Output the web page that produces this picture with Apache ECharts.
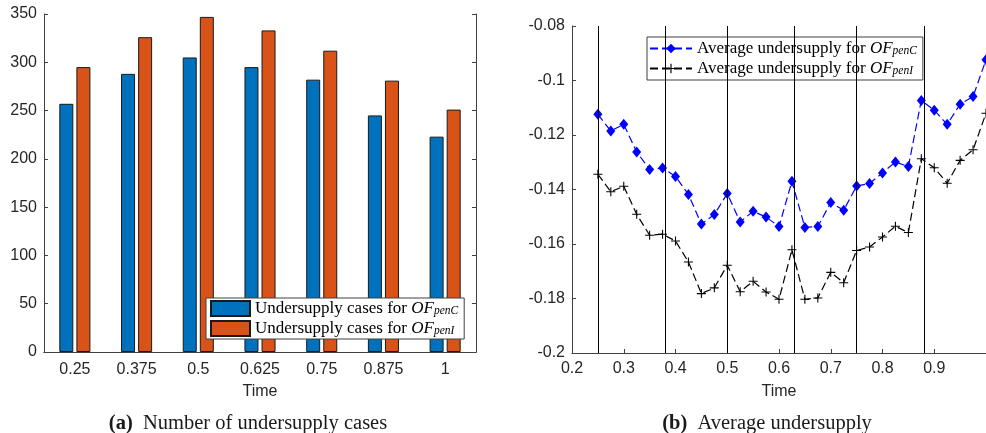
<!DOCTYPE html>
<html lang="en">
<head>
	<meta charset="UTF-8">
	<title>Undersupply</title>
	<style type="text/css">
		html, body { margin: 0; padding: 0; background: #fff; }
		#main { width: 986px; height: 433px; }
	</style>
	<script type="text/javascript" src="https://cdn.jsdelivr.net/npm/echarts@6/dist/echarts.min.js"></script>
</head>
<body>
	<div id="main"></div>

	<script type="text/javascript">
// (a) number of undersupply cases
var times = ['0.25', '0.375', '0.5', '0.625', '0.75', '0.875', '1'];
var casesC = [257, 288, 305, 295, 282, 245, 223];
var casesI = [295, 326, 347, 333, 312, 281, 251];

// (b) average undersupply
var tPoints = [0.25, 0.275, 0.3, 0.325, 0.35, 0.375, 0.4, 0.425, 0.45, 0.475,
               0.5, 0.525, 0.55, 0.575, 0.6, 0.625, 0.65, 0.675, 0.7, 0.725,
               0.75, 0.775, 0.8, 0.825, 0.85, 0.875, 0.9, 0.925, 0.95, 0.975, 1.0];
var avgC = [-0.1124, -0.1185, -0.1161, -0.1262, -0.1327, -0.1321, -0.1352, -0.1418, -0.1527, -0.1492,
            -0.1415, -0.1519, -0.1480, -0.1501, -0.1536, -0.1370, -0.1539, -0.1536, -0.1448, -0.1476,
            -0.1387, -0.1378, -0.1339, -0.1299, -0.1316, -0.1073, -0.1109, -0.1161, -0.1087, -0.1059, -0.0924];
var avgI = [-0.1344, -0.1408, -0.1388, -0.1491, -0.1568, -0.1564, -0.1589, -0.1666, -0.1782, -0.1761,
            -0.1678, -0.1775, -0.1737, -0.1776, -0.1803, -0.1621, -0.1803, -0.1798, -0.1704, -0.1742,
            -0.1624, -0.1611, -0.1574, -0.1535, -0.1558, -0.1287, -0.1320, -0.1377, -0.1293, -0.1254, -0.1120];
var stepTimes = [0.25, 0.375, 0.5, 0.625, 0.75, 0.875];

var axisCol = '#404040';
var txtCol = '#262626';
var sans = 'Liberation Sans';
var serif = 'Liberation Serif';

var chart = echarts.init(document.getElementById('main'));

function pair(xs, ys) {
    return xs.map(function (x, i) { return [x, ys[i]]; });
}

var legendRich = {
    t: { fontFamily: serif, fontSize: 17, color: '#000' },
    i: { fontFamily: serif, fontSize: 17, fontStyle: 'italic', color: '#000' },
    s: { fontFamily: serif, fontSize: 11.5, fontStyle: 'italic', color: '#000', verticalAlign: 'bottom', padding: [5, 0, 0, 0] }
};
function legendFmt(name) {
    var p = name.split('|');
    return '{t|' + p[0] + '}{i|OF}{s|' + p[1] + '}';
}

var plusPath = 'path://M-1,-0.12H1V0.12H-1Z M-0.12,-1H0.12V1H-0.12Z';
var capStyle = {
    fontFamily: serif, fontSize: 20.5, fontWeight: 'normal', color: '#1a1a1a',
    rich: { b: { fontFamily: serif, fontSize: 20.5, fontWeight: 'bold', color: '#1a1a1a' } }
};

chart.setOption({
    animation: false,
    title: [{
        text: '{b|(a)}  Number of undersupply cases',
        left: 243, top: 408, textAlign: 'center', textStyle: capStyle
    }, {
        text: '{b|(b)}  Average undersupply',
        left: 762, top: 408, textAlign: 'center', textStyle: capStyle
    }],
    legend: [{
        data: ['Undersupply cases for |penC', 'Undersupply cases for |penI'],
        orient: 'vertical', left: 206, top: 298,
        icon: 'rect',
        itemWidth: 39, itemHeight: 15, itemGap: 3,
        padding: [2, 6, 2, 4],
        backgroundColor: '#fff', borderColor: axisCol, borderWidth: 1, borderRadius: 0,
        formatter: legendFmt,
        textStyle: { rich: legendRich }
    }, {
        data: ['Average undersupply for |penC', 'Average undersupply for |penI'],
        orient: 'vertical', left: 647, top: 37,
        itemWidth: 42, itemHeight: 12, itemGap: 3,
        padding: [3, 6, 3, 2],
        backgroundColor: '#fff', borderColor: axisCol, borderWidth: 1, borderRadius: 0,
        formatter: legendFmt,
        textStyle: { rich: legendRich }
    }],
    grid: [
        { left: 44, right: 510, top: 14, bottom: 81 },
        { left: 572, right: -5, top: 26, bottom: 80 }
    ],
    xAxis: [{
        gridIndex: 0, type: 'category', data: times, position: 'bottom',
        axisLine: { lineStyle: { color: axisCol } },
        axisTick: { show: false },
        axisLabel: { color: txtCol, fontFamily: sans, fontSize: 16, margin: 10 },
        name: 'Time', nameLocation: 'middle', nameGap: 32,
        nameTextStyle: { color: txtCol, fontFamily: sans, fontSize: 16 }
    }, {
        gridIndex: 0, type: 'category', data: times, position: 'top',
        axisLine: { lineStyle: { color: axisCol } },
        axisTick: { inside: true, alignWithLabel: true, length: 4, lineStyle: { color: axisCol } },
        axisLabel: { show: false }
    }, {
        gridIndex: 1, type: 'value', min: 0.2, max: 1, interval: 0.1,
        axisLine: { lineStyle: { color: axisCol } },
        axisTick: { inside: true, length: 4, lineStyle: { color: axisCol } },
        axisLabel: { color: txtCol, fontFamily: sans, fontSize: 16, margin: 8, showMaxLabel: false,
            formatter: function (v) { return String(+v.toFixed(2)); } },
        splitLine: { show: false },
        name: 'Time', nameLocation: 'middle', nameGap: 31,
        nameTextStyle: { color: txtCol, fontFamily: sans, fontSize: 16 }
    }],
    yAxis: [{
        gridIndex: 0, type: 'value', min: 0, max: 350, interval: 50,
        axisLine: { show: true, lineStyle: { color: axisCol } },
        axisTick: { show: true, inside: true, length: 4, lineStyle: { color: axisCol } },
        axisLabel: { color: txtCol, fontFamily: sans, fontSize: 16, margin: 7 },
        splitLine: { show: false }
    }, {
        gridIndex: 0, type: 'value', min: 0, max: 350, interval: 50, position: 'right',
        axisLine: { show: true, lineStyle: { color: axisCol } },
        axisTick: { show: true, inside: true, length: 4, lineStyle: { color: axisCol } },
        axisLabel: { show: false },
        splitLine: { show: false }
    }, {
        gridIndex: 1, type: 'value', min: -0.2, max: -0.08, interval: 0.02,
        axisLine: { show: true, lineStyle: { color: axisCol } },
        axisTick: { show: true, inside: true, length: 4, lineStyle: { color: axisCol } },
        axisLabel: { color: txtCol, fontFamily: sans, fontSize: 16, margin: 7,
            formatter: function (v) { return String(+v.toFixed(2)); } },
        splitLine: { show: false }
    }],
    series: [{
        name: 'Undersupply cases for |penC',
        type: 'bar', xAxisIndex: 0, yAxisIndex: 0,
        data: casesC, barWidth: 14, barGap: '22%',
        itemStyle: { color: '#0072BD', borderColor: '#1a1a1a', borderWidth: 1 }
    }, {
        name: 'Undersupply cases for |penI',
        type: 'bar', xAxisIndex: 0, yAxisIndex: 0,
        data: casesI, barWidth: 14, barGap: '22%',
        itemStyle: { color: '#D95319', borderColor: '#1a1a1a', borderWidth: 1 }
    }, {
        name: 'Average undersupply for |penC',
        type: 'line', xAxisIndex: 2, yAxisIndex: 2,
        data: pair(tPoints, avgC),
        symbol: 'diamond', symbolSize: [9, 11],
        itemStyle: { color: '#0000FF' },
        lineStyle: { color: '#0000FF', width: 1.2, type: [8, 4] },
        z: 3,
        markLine: {
            silent: true, symbol: 'none',
            label: { show: false },
            lineStyle: { color: '#000', width: 1, type: 'solid' },
            data: stepTimes.map(function (t) { return { xAxis: t }; })
        }
    }, {
        name: 'Average undersupply for |penI',
        type: 'line', xAxisIndex: 2, yAxisIndex: 2,
        data: pair(tPoints, avgI),
        symbol: plusPath, symbolSize: 9,
        itemStyle: { color: '#000' },
        lineStyle: { color: '#000', width: 1.2, type: [8, 4] },
        z: 3
    }]
});
	</script>
</body>
</html>
